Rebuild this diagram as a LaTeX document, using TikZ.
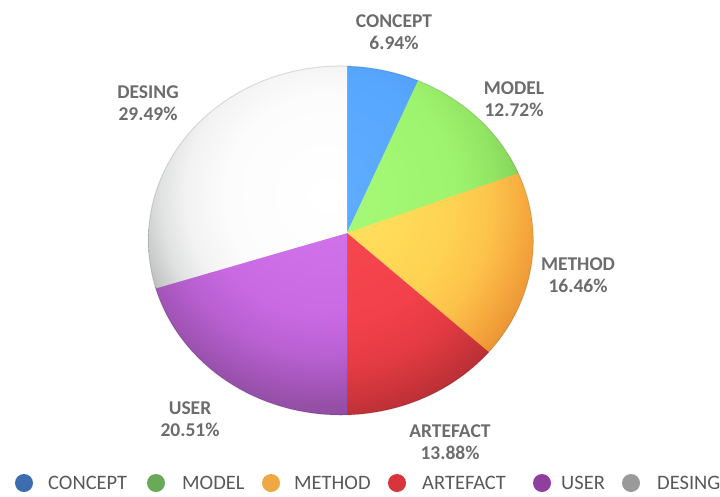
\documentclass[tikz,border=0pt]{standalone}
\usepackage{fontspec}
\setmainfont{Carlito}
\definecolor{lblgray}{HTML}{6C6C6C}
\definecolor{leggray}{HTML}{595959}
\definecolor{legblue}{HTML}{3C6DAE}
\definecolor{leggreen}{HTML}{68AA57}
\definecolor{legorange}{HTML}{EFA842}
\definecolor{legred}{HTML}{D7353B}
\definecolor{legpurple}{HTML}{8F409F}
\definecolor{leggrey}{HTML}{9A9A9A}
% slice shadings (25bp = 240px from the highlight)
\definecolor{b0}{HTML}{5EADFF}\definecolor{b1}{HTML}{58A7FF}\definecolor{b2}{HTML}{52A0F8}\definecolor{b3}{HTML}{4A92E6}\definecolor{b4}{HTML}{3F7FCC}
\definecolor{g0}{HTML}{A6FA78}\definecolor{g1}{HTML}{9EF46E}\definecolor{g2}{HTML}{92E464}\definecolor{g3}{HTML}{84D45A}\definecolor{g4}{HTML}{70B84C}
\definecolor{y0}{HTML}{FFE565}\definecolor{y1}{HTML}{FFDD5A}\definecolor{y2}{HTML}{FED252}\definecolor{y3}{HTML}{FCC24A}\definecolor{y4}{HTML}{F6AA3E}\definecolor{y5}{HTML}{EE9A37}\definecolor{y6}{HTML}{E08A30}
\definecolor{r0}{HTML}{F7484F}\definecolor{r1}{HTML}{F2414A}\definecolor{r2}{HTML}{E43B43}\definecolor{r3}{HTML}{CC343B}\definecolor{r4}{HTML}{B02C33}
\definecolor{p0}{HTML}{D475EE}\definecolor{p1}{HTML}{C96AE2}\definecolor{p2}{HTML}{B960D2}\definecolor{p3}{HTML}{A556BA}\definecolor{p4}{HTML}{9650A8}\definecolor{p5}{HTML}{864597}
\definecolor{w0}{HTML}{FFFFFF}\definecolor{w1}{HTML}{FCFCFC}\definecolor{w2}{HTML}{F2F2F2}\definecolor{w3}{HTML}{E0E1E1}\definecolor{w4}{HTML}{C9CACA}\definecolor{w5}{HTML}{ADADAD}\definecolor{w6}{HTML}{909090}
\pgfdeclareradialshading{shblue}{\pgfpoint{0bp}{0bp}}{color(0bp)=(b0); color(12.5bp)=(b1); color(15.6bp)=(b2); color(17.7bp)=(b3); color(25bp)=(b4); color(50bp)=(b4)}
\pgfdeclareradialshading{shgreen}{\pgfpoint{0bp}{0bp}}{color(0bp)=(g0); color(13.5bp)=(g1); color(17.7bp)=(g2); color(20.3bp)=(g3); color(25bp)=(g4); color(50bp)=(g4)}
\pgfdeclareradialshading{shyellow}{\pgfpoint{0bp}{0bp}}{color(0bp)=(y0); color(6.25bp)=(y1); color(13.5bp)=(y2); color(17.7bp)=(y3); color(20.8bp)=(y4); color(22.9bp)=(y5); color(25bp)=(y6); color(50bp)=(y6)}
\pgfdeclareradialshading{shred}{\pgfpoint{0bp}{0bp}}{color(0bp)=(r0); color(13.5bp)=(r1); color(18.2bp)=(r2); color(21.4bp)=(r3); color(25bp)=(r4); color(50bp)=(r4)}
\pgfdeclareradialshading{shpurple}{\pgfpoint{0bp}{0bp}}{color(0bp)=(p0); color(12.5bp)=(p1); color(16.7bp)=(p2); color(19.8bp)=(p3); color(21.9bp)=(p4); color(25bp)=(p5); color(50bp)=(p5)}
\pgfdeclareradialshading{shwhite}{\pgfpoint{0bp}{0bp}}{color(0bp)=(w0); color(10.4bp)=(w1); color(14.6bp)=(w2); color(17.2bp)=(w3); color(19.3bp)=(w4); color(21.4bp)=(w5); color(25bp)=(w6); color(50bp)=(w6)}
\newcommand\myslice[3]{%
  \begin{scope}
    \clip (347,233) -- plot[domain=#1:#2,samples=70] ({347+100*rr(\x)*sin(\x)},{233-100*rr(\x)*cos(\x)}) -- cycle;
    \shade[shading=#3] (325,195) circle[radius=240pt];
  \end{scope}}
\begin{document}
\begin{tikzpicture}[x=1pt,y=-1pt,
  declare function={
    Ad(\t)=(sin(\t))^2/3.705625+(cos(\t))^2/3.045025;
    Bd(\t)=2*(0.062*sin(\t)/3.705625+0.075*cos(\t)/3.045025);
    rr(\t)=(-Bd(\t)+sqrt(Bd(\t)^2+4*Ad(\t)*0.997116))/(2*Ad(\t));
  },
  lbl/.style={font=\fontsize{19.5}{22}\selectfont\bfseries, text=lblgray, align=center, inner sep=0pt},
  legtxt/.style={font=\fontsize{20.5}{22}\selectfont, text=leggray, inner sep=0pt, anchor=base west},
  legdot/.style={circle, inner sep=0pt, minimum size=18pt}]
\useasboundingbox (0,0) rectangle (720,496);
% pie slices (angles clockwise from top)
\myslice{0}{25.4}{shblue}
\myslice{24.984}{71.2}{shgreen}
\myslice{70.776}{130.4}{shyellow}
\myslice{130.032}{180.4}{shred}
\myslice{180}{254.2}{shpurple}
\myslice{253.836}{360}{shwhite}
\draw[black, opacity=0.12, line width=1pt] plot[domain=0:360,samples=180,smooth] ({347+100*rr(\x)*sin(\x)},{233-100*rr(\x)*cos(\x)}) -- cycle;
% data labels
\node[lbl] (lconcept) at (394,32) {CONCEPT\\6.94\%};
\node[lbl] (lmodel) at (514,99) {MODEL\\12.72\%};
\node[lbl] (lmethod) at (578,275.5) {METHOD\\16.46\%};
\node[lbl] (lartefact) at (450,442) {ARTEFACT\\13.88\%};
\node[lbl] (luser) at (190,419) {USER\\20.51\%};
\node[lbl] (ldesing) at (148,103) {DESING\\29.49\%};
% legend
\node[legdot, fill=legblue] (kconcept) at (24,483) {};
\node[legtxt] (tconcept) at (48,489.5) {CONCEPT};
\node[legdot, fill=leggreen] (kmodel) at (156,483) {};
\node[legtxt] (tmodel) at (182,489.5) {MODEL};
\node[legdot, fill=legorange] (kmethod) at (271,483) {};
\node[legtxt] (tmethod) at (294,489.5) {METHOD};
\node[legdot, fill=legred] (kartefact) at (397,483) {};
\node[legtxt] (tartefact) at (422,489.5) {ARTEFACT};
\node[legdot, fill=legpurple] (kuser) at (542,483) {};
\node[legtxt] (tuser) at (561,489.5) {USER};
\node[legdot, fill=leggrey] (kdesing) at (631,483) {};
\node[legtxt] (tdesing) at (657,489.5) {DESING};
\end{tikzpicture}
\end{document}
